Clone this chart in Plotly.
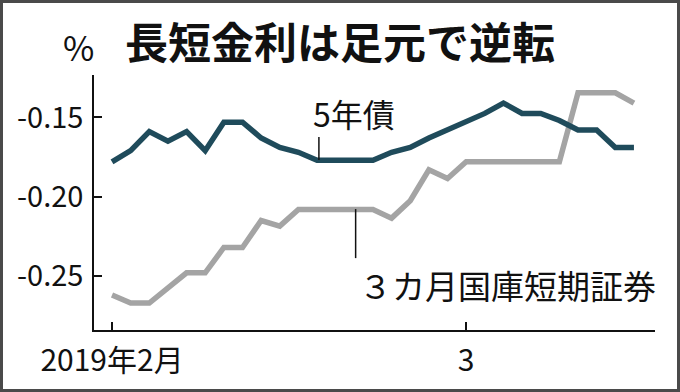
import plotly.graph_objects as go

# ---- data ----
x_idx = list(range(29))  # business days from 2019-02-01 to 2019-03-14
tick_vals = [0, 19]
tick_text = ["2019年2月", "3"]

bond_5y = [-0.178, -0.171, -0.159, -0.165, -0.159, -0.171, -0.153, -0.153, -0.163, -0.169,
           -0.172, -0.177, -0.177, -0.177, -0.177, -0.172, -0.169, -0.163, -0.158, -0.153,
           -0.1475, -0.141, -0.1475, -0.1475, -0.152, -0.158, -0.158, -0.169, -0.169]
tbill_3m = [-0.262, -0.267, -0.267, -0.258, -0.248, -0.248, -0.232, -0.232, -0.215, -0.2185,
            -0.208, -0.208, -0.208, -0.208, -0.208, -0.2135, -0.2025, -0.183, -0.1885, -0.178,
            -0.178, -0.178, -0.178, -0.178, -0.178, -0.1345, -0.1345, -0.1345, -0.141]
y_ticks = [-0.25, -0.20, -0.15]
y_tick_text = ["-0.25", "-0.20", "-0.15"]

FONT = "Noto Sans CJK JP, Noto Sans, sans-serif"
W, H = 680, 392
L, R, T, B = 94, 25, 75, 62
PW, PH = W - L - R, H - T - B


def px(xp):
    return (xp - L) / PW


def py(yp):
    return (H - B - yp) / PH


fig = go.Figure()
fig.add_trace(go.Scatter(x=x_idx, y=tbill_3m, mode="lines",
                         line=dict(color="#a4a4a4", width=5.5), hoverinfo="skip"))
fig.add_trace(go.Scatter(x=x_idx, y=bond_5y, mode="lines",
                         line=dict(color="#1f4b5b", width=5.5), hoverinfo="skip"))

# leader lines
fig.add_shape(type="line", x0=11.1, x1=11.1, y0=-0.1624, y1=-0.1769,
              line=dict(color="#111", width=1.5))
fig.add_shape(type="line", x0=13.07, x1=13.07, y0=-0.2078, y1=-0.2387,
              line=dict(color="#111", width=1.5))

# frame border
bw = 3
fig.add_shape(type="rect", xref="paper", yref="paper",
              x0=px(bw / 2), x1=px(W - bw / 2), y0=py(H - bw / 2), y1=py(bw / 2),
              line=dict(color="#4a4a4a", width=bw), fillcolor="rgba(0,0,0,0)", layer="above")

fig.add_annotation(x=13.0, y=-0.1474, xref="x", yref="y", text="5年債", showarrow=False,
                   xanchor="center", yanchor="middle",
                   font=dict(family=FONT, size=32, color="#111"))
fig.add_annotation(x=21.2, y=-0.2555, xref="x", yref="y", text="３カ月国庫短期証券", showarrow=False,
                   xanchor="center", yanchor="middle",
                   font=dict(family=FONT, size=33, color="#111"))
fig.add_annotation(x=px(340), y=py(40), xref="paper", yref="paper", text="<b>長短金利は足元で逆転</b>",
                   showarrow=False, xanchor="center", yanchor="middle",
                   font=dict(family=FONT, size=43, color="#111"))
fig.add_annotation(x=px(78), y=py(47), xref="paper", yref="paper", text="%",
                   showarrow=False, xanchor="center", yanchor="middle",
                   font=dict(family=FONT, size=34, color="#111"))

fig.update_layout(
    width=W, height=H,
    margin=dict(l=L, r=R, t=T, b=B),
    paper_bgcolor="white", plot_bgcolor="white",
    showlegend=False,
    font=dict(family=FONT, color="#111"),
)
fig.update_xaxes(range=[-0.966, 29.13], tickvals=tick_vals, ticktext=tick_text,
                 ticks="inside", ticklen=8, tickwidth=1.5, tickcolor="#111",
                 showline=True, linecolor="#111", linewidth=1.5, showgrid=False, zeroline=False,
                 tickfont=dict(family=FONT, size=30, color="#111"), ticklabelstandoff=3)
fig.update_yaxes(range=[-0.284, -0.1233], tickvals=y_ticks, ticktext=y_tick_text,
                 ticks="inside", ticklen=8, tickwidth=1.5, tickcolor="#111",
                 showline=True, linecolor="#111", linewidth=1.5, showgrid=False, zeroline=False,
                 tickfont=dict(family=FONT, size=29, color="#111"), ticklabelstandoff=3)

fig.write_html("out.html", config={"displayModeBar": False},
               post_script="document.body.style.margin='0';")
